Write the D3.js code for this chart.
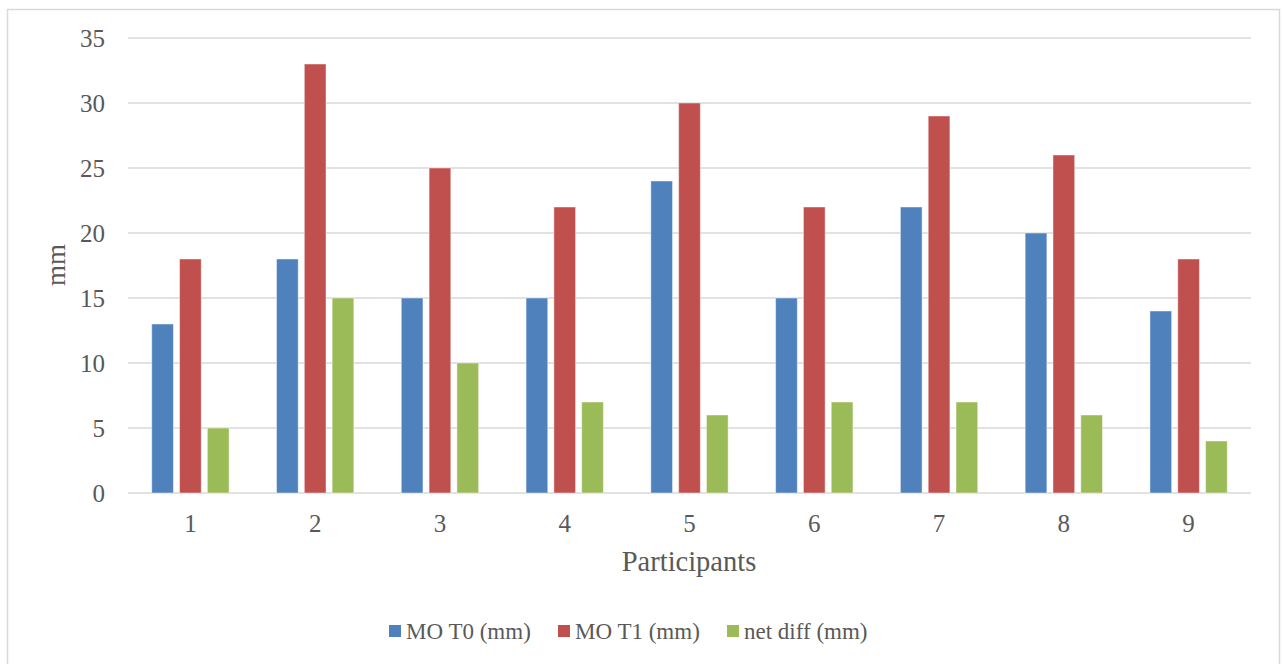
<!DOCTYPE html>
<html>
<head>
<meta charset="utf-8">
<script src="https://cdn.jsdelivr.net/npm/d3@7"></script>
<style>
  html, body { margin: 0; padding: 0; background: #ffffff; }
  svg { display: block; }
  text { font-family: "Liberation Serif", "Times New Roman", serif; fill: #595959; }
</style>
</head>
<body>
<svg id="chart" width="1284" height="664"></svg>
<script>
// Participants on the x axis
const participants = ["1", "2", "3", "4", "5", "6", "7", "8", "9"];
// Series names
const seriesNames = ["MO T0 (mm)", "MO T1 (mm)", "net diff (mm)"];
// Mouth opening values in mm
const moT0 = [13, 18, 15, 15, 24, 15, 22, 20, 14];
const moT1 = [18, 33, 25, 22, 30, 22, 29, 26, 18];
const netDiff = [5, 15, 10, 7, 6, 7, 7, 6, 4];
// Y axis ticks
const yTicks = [0, 5, 10, 15, 20, 25, 30, 35];
const seriesColors = ["#4f81bd", "#c0504d", "#9bbb59"];

const seriesValues = [moT0, moT1, netDiff];

const svg = d3.select("#chart");
const W = 1284, H = 664;

// outer chart border
svg.append("rect")
  .attr("x", 7.5).attr("y", 9.5)
  .attr("width", 1272).attr("height", 670)
  .attr("fill", "#ffffff")
  .attr("stroke", "#d9d9d9").attr("stroke-width", 1.5);

const plot = { left: 128, right: 1251, top: 38, bottom: 493 };

const y = d3.scaleLinear().domain([0, 35]).range([plot.bottom, plot.top]);
const x0 = d3.scaleBand().domain(participants).range([plot.left, plot.right]).padding(0);
const x1 = d3.scaleBand().domain(seriesNames).range([0, x0.bandwidth()])
  .paddingInner(0.22).paddingOuter(0.853);

// gridlines
svg.append("g")
  .selectAll("line")
  .data(yTicks)
  .join("line")
  .attr("x1", plot.left).attr("x2", plot.right)
  .attr("y1", d => y(d)).attr("y2", d => y(d))
  .attr("stroke", "#d9d9d9").attr("stroke-width", 1.5);

// y axis labels
const yAxis = d3.axisLeft(y).tickValues(yTicks).tickSize(0).tickPadding(0);
const gy = svg.append("g").attr("transform", `translate(105,0)`).call(yAxis);
gy.select(".domain").remove();
gy.selectAll("text")
  .attr("font-size", 25)
  .attr("font-family", "Liberation Serif, serif")
  .attr("fill", "#595959")
  .attr("dy", "0.33em");

// x axis labels
const xAxis = d3.axisBottom(x0).tickSize(0).tickPadding(0);
const gx = svg.append("g").attr("transform", `translate(0,${plot.bottom})`).call(xAxis);
gx.select(".domain").remove();
gx.selectAll("text")
  .attr("font-size", 25)
  .attr("font-family", "Liberation Serif, serif")
  .attr("fill", "#595959")
  .attr("y", 39)
  .attr("dy", null);

// bars
const groups = svg.append("g")
  .selectAll("g")
  .data(participants)
  .join("g")
  .attr("transform", d => `translate(${x0(d)},0)`);

groups.selectAll("rect")
  .data((d, i) => seriesNames.map((s, k) => ({ s, k, v: seriesValues[k][i] })))
  .join("rect")
  .attr("x", d => x1(d.s))
  .attr("width", x1.bandwidth())
  .attr("y", d => y(d.v))
  .attr("height", d => y(0) - y(d.v))
  .attr("fill", d => seriesColors[d.k])
  .attr("stroke", "#ffffff")
  .attr("stroke-opacity", 0.45)
  .attr("stroke-width", 1);

// axis titles
svg.append("text")
  .attr("x", 689).attr("y", 571)
  .attr("text-anchor", "middle")
  .attr("font-size", 28.5)
  .text("Participants");

svg.append("text")
  .attr("transform", "translate(65,265) rotate(-90)")
  .attr("text-anchor", "middle")
  .attr("font-size", 27)
  .text("mm");

// legend
const legendX = [389, 558, 727];
const legend = svg.append("g")
  .selectAll("g")
  .data(seriesNames)
  .join("g")
  .attr("transform", (d, i) => `translate(${legendX[i]},625)`);
legend.append("rect")
  .attr("width", 12).attr("height", 12)
  .attr("fill", (d, i) => seriesColors[i]);
legend.append("text")
  .attr("x", 17).attr("y", 14)
  .attr("font-size", 23)
  .text(d => d);
</script>
</body>
</html>
